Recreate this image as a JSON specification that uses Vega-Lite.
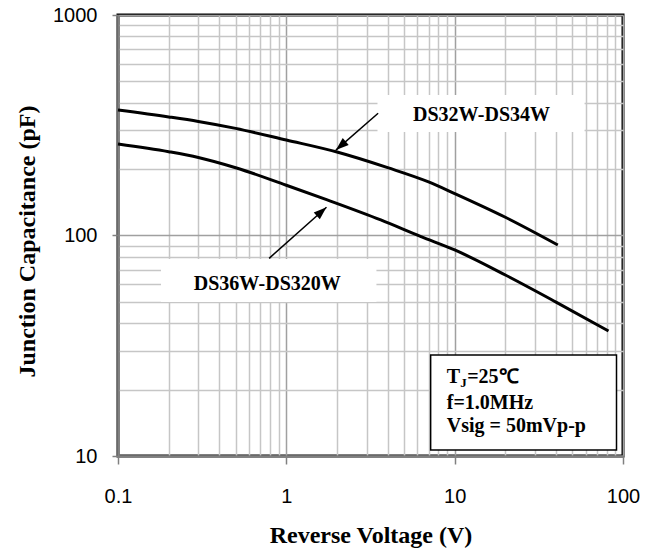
{
  "$schema": "https://vega.github.io/schema/vega-lite/v6.json",
  "width": 505,
  "height": 441,
  "autosize": {"type": "none"},
  "padding": {"left": 118, "top": 15, "right": 36, "bottom": 95},
  "background": "white",
  "config": {
    "view": {"stroke": "#000000", "strokeWidth": 3},
    "axis": {"labelColor": "#000000", "titleColor": "#000000"}
  },
  "datasets": {
    "curves": [
      {"series": "DS32W-DS34W", "x": 0.1, "y": 371},
      {"series": "DS32W-DS34W", "x": 0.2, "y": 345},
      {"series": "DS32W-DS34W", "x": 0.3, "y": 329},
      {"series": "DS32W-DS34W", "x": 0.5, "y": 306},
      {"series": "DS32W-DS34W", "x": 1, "y": 271},
      {"series": "DS32W-DS34W", "x": 2, "y": 239},
      {"series": "DS32W-DS34W", "x": 4, "y": 203},
      {"series": "DS32W-DS34W", "x": 7, "y": 175},
      {"series": "DS32W-DS34W", "x": 10, "y": 155},
      {"series": "DS32W-DS34W", "x": 20, "y": 121},
      {"series": "DS32W-DS34W", "x": 41, "y": 90.6},
      {"series": "DS36W-DS320W", "x": 0.1, "y": 260},
      {"series": "DS36W-DS320W", "x": 0.2, "y": 240},
      {"series": "DS36W-DS320W", "x": 0.3, "y": 226},
      {"series": "DS36W-DS320W", "x": 0.5, "y": 203},
      {"series": "DS36W-DS320W", "x": 1, "y": 169},
      {"series": "DS36W-DS320W", "x": 1.75, "y": 145},
      {"series": "DS36W-DS320W", "x": 3.64, "y": 117.6},
      {"series": "DS36W-DS320W", "x": 6.31, "y": 98.8},
      {"series": "DS36W-DS320W", "x": 10, "y": 86},
      {"series": "DS36W-DS320W", "x": 20, "y": 66.2},
      {"series": "DS36W-DS320W", "x": 40, "y": 49.9},
      {"series": "DS36W-DS320W", "x": 82, "y": 36.9}
    ],
    "boxes": [
      {"id": "upper", "x": 3.48, "x2": 59.1, "y": 433.6, "y2": 294.7},
      {"id": "lower", "x": 0.18, "x2": 3.43, "y": 78.2, "y2": 49.9}
    ],
    "infobox": [
      {"x": 7.2, "x2": 91.5, "y": 28.7, "y2": 10.65}
    ],
    "labels": [
      {"label": "DS32W-DS34W", "x": 14.45, "y": 330.6},
      {"label": "DS36W-DS320W", "x": 0.771, "y": 56.6}
    ],
    "arrows": [
      {"id": "upper", "x": 3.51, "y": 358.3, "x2": 1.97, "y2": 244},
      {"id": "lower", "x": 0.79, "y": 78.8, "x2": 1.732, "y2": 134.3}
    ],
    "heads": [
      {"id": "upper", "x": 1.97, "y": 244},
      {"id": "lower", "x": 1.732, "y": 134.3}
    ],
    "info": [
      {"part": "T", "x": 8.97, "y": 21.4},
      {"part": "J", "x": 8.97, "y": 21.4},
      {"part": "=25℃", "x": 8.97, "y": 21.4},
      {"part": "f=1.0MHz", "x": 8.97, "y": 16.4},
      {"part": "Vsig = 50mVp-p", "x": 8.97, "y": 12.85}
    ]
  },
  "encoding": {
    "x": {
      "field": "x",
      "type": "quantitative",
      "scale": {"type": "log", "domain": [0.1, 100], "nice": false},
      "axis": {
        "title": "Reverse Voltage (V)",
        "values": [0.1, 0.2, 0.3, 0.4, 0.5, 0.6, 0.7, 0.8, 0.9, 1, 2, 3, 4, 5, 6, 7, 8, 9, 10, 20, 30, 40, 50, 60, 70, 80, 90, 100],
        "grid": true,
        "gridColor": {"condition": {"test": "abs(log(datum.value)/LN10 - round(log(datum.value)/LN10)) < 0.001", "value": "#a0a0a0"}, "value": "#c6c6c6"},
        "gridWidth": 1.5,
        "ticks": true,
        "tickSize": 8,
        "tickColor": "#808080",
        "tickWidth": 1.5,
        "tickOpacity": {"condition": {"test": "abs(log(datum.value)/LN10 - round(log(datum.value)/LN10)) < 0.001", "value": 1}, "value": 0},
        "domainColor": "#808080",
        "domainWidth": 2.5,
        "labelExpr": "abs(log(datum.value)/LN10 - round(log(datum.value)/LN10)) < 0.001 ? toString(datum.value) : ''",
        "labelFont": "Liberation Sans",
        "labelFontSize": 20,
        "labelPadding": 22,
        "labelFlush": false,
        "labelOverlap": false,
        "labelBound": false,
        "titleFont": "Liberation Serif",
        "titleFontWeight": "bold",
        "titleFontSize": 24,
        "titleY": 86,
        "titleBaseline": "alphabetic"
      }
    },
    "y": {
      "field": "y",
      "type": "quantitative",
      "scale": {"type": "log", "domain": [10, 1000], "nice": false},
      "axis": {
        "title": "Junction Capacitance (pF)",
        "values": [10, 20, 30, 40, 50, 60, 70, 80, 90, 100, 200, 300, 400, 500, 600, 700, 800, 900, 1000],
        "grid": true,
        "gridColor": {"condition": {"test": "abs(log(datum.value)/LN10 - round(log(datum.value)/LN10)) < 0.001", "value": "#a0a0a0"}, "value": "#c6c6c6"},
        "gridWidth": 1.5,
        "ticks": true,
        "tickSize": 6,
        "tickColor": "#808080",
        "tickWidth": 1.5,
        "tickOpacity": {"condition": {"test": "abs(log(datum.value)/LN10 - round(log(datum.value)/LN10)) < 0.001", "value": 1}, "value": 0},
        "domainColor": "#808080",
        "domainWidth": 2.5,
        "labelExpr": "abs(log(datum.value)/LN10 - round(log(datum.value)/LN10)) < 0.001 ? toString(datum.value) : ''",
        "labelFont": "Liberation Sans",
        "labelFontSize": 20,
        "labelPadding": 15,
        "labelOverlap": false,
        "labelBound": false,
        "labelFlush": false,
        "titleFont": "Liberation Serif",
        "titleFontWeight": "bold",
        "titleFontSize": 24,
        "titleX": -84,
        "titleY": 226,
        "titleAngle": -90,
        "titleBaseline": "alphabetic",
        "titleAlign": "center"
      }
    }
  },
  "layer": [
    {
      "data": {"name": "curves"},
      "mark": {"type": "line", "color": "#000000", "strokeWidth": 3, "interpolate": "monotone"},
      "encoding": {"detail": {"field": "series", "type": "nominal"}}
    },
    {
      "data": {"name": "boxes"},
      "mark": {"type": "rect", "fill": "#ffffff", "stroke": null},
      "encoding": {"x2": {"field": "x2"}, "y2": {"field": "y2"}}
    },
    {
      "data": {"name": "infobox"},
      "mark": {"type": "rect", "fill": "#ffffff", "stroke": "#000000", "strokeWidth": 1.5},
      "encoding": {"x2": {"field": "x2"}, "y2": {"field": "y2"}}
    },
    {
      "data": {"name": "labels"},
      "mark": {"type": "text", "font": "Liberation Serif", "fontWeight": "bold", "fontSize": 20, "color": "#000000", "align": "center", "baseline": "alphabetic"},
      "encoding": {"text": {"field": "label"}}
    },
    {
      "data": {"name": "arrows"},
      "mark": {"type": "rule", "color": "#000000", "strokeWidth": 1.5},
      "encoding": {"x2": {"field": "x2"}, "y2": {"field": "y2"}}
    },
    {
      "data": {"name": "heads"},
      "transform": [{"filter": "datum.id == 'upper'"}],
      "mark": {"type": "point", "shape": "M0,0 L-0.35,1 L0.35,1 Z", "filled": true, "color": "#000000", "opacity": 1, "size": 676, "angle": 229, "strokeWidth": 0}
    },
    {
      "data": {"name": "heads"},
      "transform": [{"filter": "datum.id == 'lower'"}],
      "mark": {"type": "point", "shape": "M0,0 L-0.35,1 L0.35,1 Z", "filled": true, "color": "#000000", "opacity": 1, "size": 676, "angle": 48.4, "strokeWidth": 0}
    },
    {
      "data": {"name": "info"},
      "transform": [{"filter": "datum.part != 'J' && datum.part != '=25℃'"}],
      "mark": {"type": "text", "font": "Liberation Serif", "fontWeight": "bold", "fontSize": 20, "color": "#000000", "align": "left", "baseline": "alphabetic"},
      "encoding": {"text": {"field": "part"}}
    },
    {
      "data": {"name": "info"},
      "transform": [{"filter": "datum.part == 'J'"}],
      "mark": {"type": "text", "font": "Liberation Serif", "fontWeight": "bold", "fontSize": 13, "color": "#000000", "align": "left", "baseline": "alphabetic", "dx": 13.5, "dy": 4},
      "encoding": {"text": {"field": "part"}}
    },
    {
      "data": {"name": "info"},
      "transform": [{"filter": "datum.part == '=25℃'"}],
      "mark": {"type": "text", "font": "Liberation Serif", "fontWeight": "bold", "fontSize": 20, "color": "#000000", "align": "left", "baseline": "alphabetic", "dx": 20.5},
      "encoding": {"text": {"field": "part"}}
    }
  ]
}
